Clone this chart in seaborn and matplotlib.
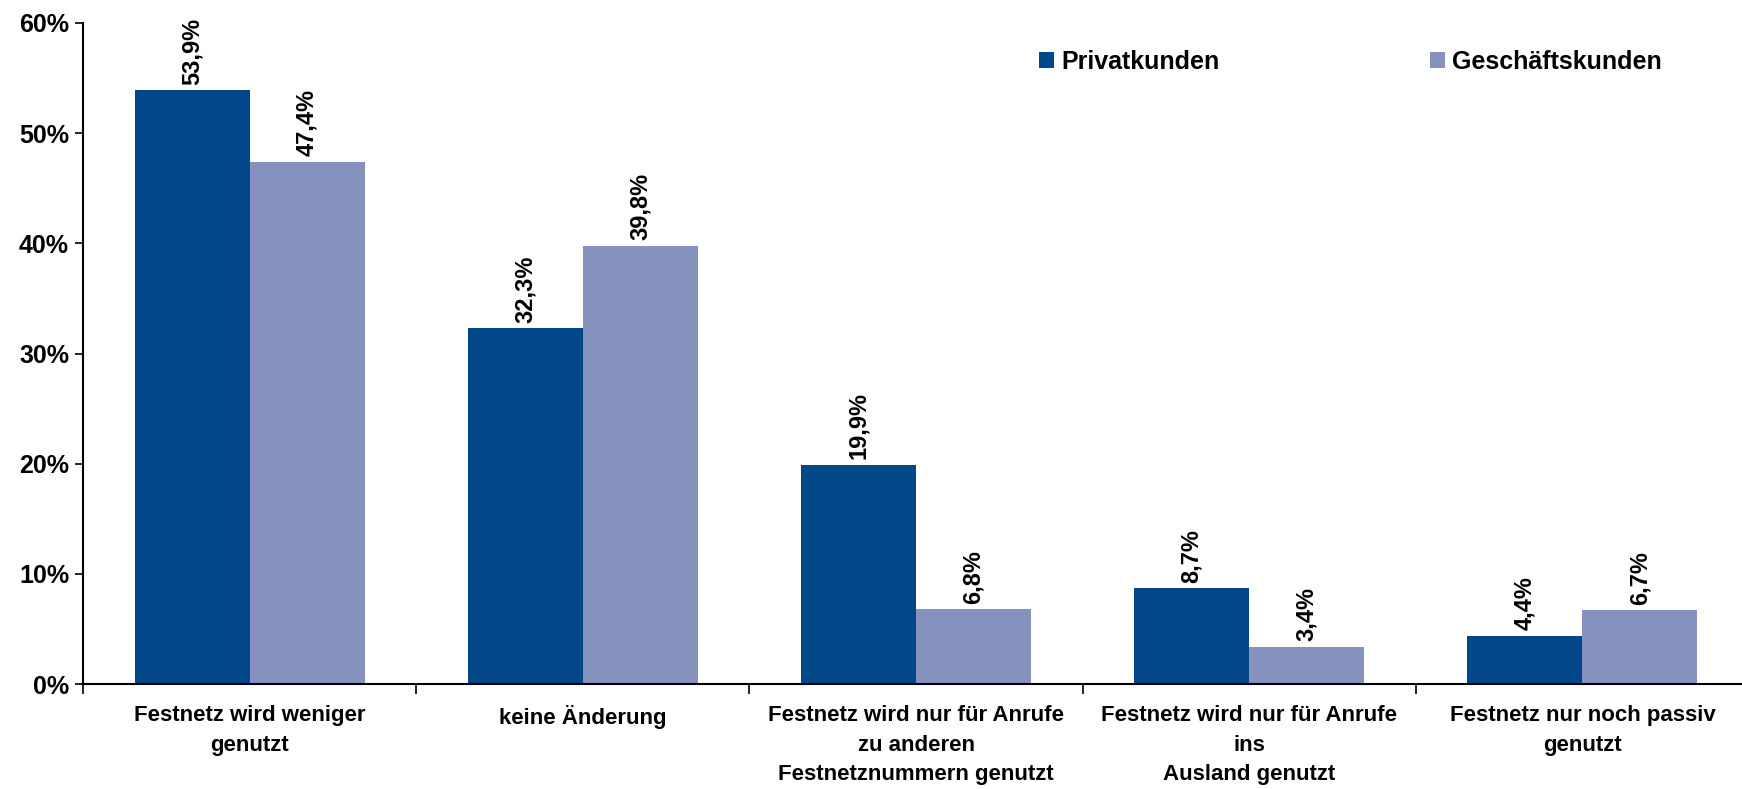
import pandas as pd
import seaborn as sns
import matplotlib.pyplot as plt
from matplotlib.ticker import FixedLocator, FuncFormatter
from matplotlib.patches import Patch

# data
categories = [
    "Festnetz wird weniger\ngenutzt",
    "keine Änderung",
    "Festnetz wird nur für Anrufe\nzu anderen\nFestnetznummern genutzt",
    "Festnetz wird nur für Anrufe\nins\nAusland genutzt",
    "Festnetz nur noch passiv\ngenutzt",
]
privatkunden = [53.9, 32.3, 19.9, 8.7, 4.4]
geschaeftskunden = [47.4, 39.8, 6.8, 3.4, 6.7]
series = ["Privatkunden", "Geschäftskunden"]
colors = ["#02478A", "#8592BE"]

df = pd.DataFrame({
    "Kategorie": categories * 2,
    "Gruppe": [series[0]] * len(categories) + [series[1]] * len(categories),
    "Wert": privatkunden + geschaeftskunden,
})

sns.set_theme(style="white")
plt.rcParams["font.family"] = ["Liberation Sans", "DejaVu Sans"]
plt.rcParams["font.weight"] = "bold"
plt.rcParams["text.color"] = "black"
plt.rcParams["xtick.color"] = "black"
plt.rcParams["ytick.color"] = "black"
plt.rcParams["xtick.labelcolor"] = "black"
plt.rcParams["ytick.labelcolor"] = "black"

fig = plt.figure(figsize=(17.42, 7.89), dpi=100)
ax = fig.add_axes([83 / 1742, 105 / 789, (1749 - 83) / 1742, 661 / 789])

sns.barplot(
    data=df, x="Kategorie", y="Wert", hue="Gruppe",
    palette=colors, width=0.69, gap=0, saturation=1,
    linewidth=0, ax=ax, legend=False,
)

# value labels (German decimal comma)
for cont in ax.containers:
    for bar in cont:
        h = bar.get_height()
        ax.annotate(
            f"{h:.1f}".replace(".", ",") + "%",
            (bar.get_x() + bar.get_width() / 2, h),
            xytext=(0, 4), textcoords="offset points",
            rotation=90, ha="center", va="bottom",
            fontsize=17, fontweight="bold", color="black",
        )

ax.set_xlim(-0.5, 4.5)
ax.set_ylim(0, 60)
ax.set_yticks(range(0, 61, 10))
ax.yaxis.set_major_formatter(FuncFormatter(lambda v, p: f"{v:.0f}%"))
ax.tick_params(axis="y", left=True, length=6, width=1.2, color="black",
               labelsize=18, pad=4)
ax.tick_params(axis="x", which="major", length=0, labelsize=16, pad=15)
ax.xaxis.set_minor_locator(FixedLocator([-0.5, 0.5, 1.5, 2.5, 3.5]))
ax.tick_params(axis="x", which="minor", bottom=True, length=7, width=1.2, color="black")
for lab in ax.get_xticklabels():
    lab.set_linespacing(1.55)
    lab.set_fontweight("bold")
for lab in ax.get_yticklabels():
    lab.set_fontweight("bold")

ax.set_xlabel("")
ax.set_ylabel("")
sns.despine(ax=ax, top=True, right=True)
ax.spines["left"].set_color("black")
ax.spines["left"].set_linewidth(1.5)
ax.spines["bottom"].set_color("black")
ax.spines["bottom"].set_linewidth(1.5)

# legend
handles = [Patch(facecolor=c, edgecolor="none") for c in colors]
fig.legend(
    handles, series, loc="center left",
    bbox_to_anchor=(1039 / 1742, 1 - 62 / 789),
    ncol=2, frameon=False,
    handlelength=0.6, handleheight=0.6, handletextpad=0.3,
    columnspacing=8.4, borderpad=0, borderaxespad=0,
    prop={"weight": "bold", "size": 18},
)

fig.savefig("out.png", dpi=100)
plt.close(fig)
